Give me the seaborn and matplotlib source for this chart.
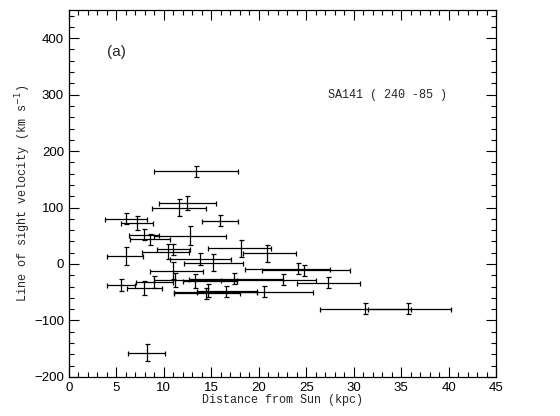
import matplotlib
matplotlib.use("Agg")
import matplotlib.pyplot as plt
import matplotlib.ticker as mticker
import seaborn as sns

sns.set_style("ticks")

# distance from Sun (kpc), velocity (km/s), distance range, velocity error
dist = [13.4, 12.4, 11.6, 6.0, 7.2, 15.9, 7.9, 8.5, 12.8, 10.4, 11.0, 6.0,
        18.1, 20.9, 13.8, 15.2, 24.1, 24.8, 11.0, 11.2, 5.5, 7.9, 9.0, 13.3,
        17.4, 22.5, 27.3, 14.4, 14.7, 16.6, 20.5, 31.2, 35.7, 8.2]
vel = [164, 108, 100, 80, 73, 77, 52, 44, 50, 22, 26, 14,
       28, 19, 9, 2, -8, -11, -12, -28, -37, -43, -32, -30,
       -26, -28, -33, -52, -47, -49, -49, -79, -79, -157]
dist_lo = [9.0, 9.5, 8.75, 3.8, 5.5, 14.0, 6.35, 6.4, 9.0, 7.7, 9.3, 4.0,
           14.7, 18.3, 10.6, 12.1, 18.5, 20.3, 8.5, 9.0, 4.0, 6.1, 7.1, 12.0,
           12.6, 16.0, 24.0, 11.1, 13.5, 11.1, 13.5, 26.4, 31.5, 6.25]
dist_hi = [17.8, 15.5, 14.4, 8.25, 8.9, 17.8, 9.5, 10.7, 16.6, 12.7, 12.8, 7.8,
           21.3, 23.9, 17.1, 18.3, 27.5, 29.6, 14.1, 17.7, 7.0, 9.8, 11.0, 17.7,
           22.5, 26.0, 30.7, 18.0, 19.8, 19.8, 25.7, 36.0, 40.2, 10.1]
vel_err = [10, 12, 15, 10, 12, 10, 10, 10, 17, 13, 10, 16,
           15, 15, 10, 15, 10, 10, 15, 12, 10, 12, 10, 12,
           10, 10, 10, 10, 12, 10, 10, 10, 10, 15]

xerr = [[d - lo for d, lo in zip(dist, dist_lo)],
        [hi - d for d, hi in zip(dist, dist_hi)]]

fig = plt.figure(figsize=(5.6, 4.16), dpi=100)
ax = fig.add_axes([0.123, 0.094, 0.763, 0.882])

ax.errorbar(dist, vel, xerr=xerr, yerr=vel_err, fmt="none", ecolor="black",
            elinewidth=0.9, capsize=1.8, capthick=0.9)

ax.set_xlim(0, 45)
ax.set_ylim(-200, 450)
ax.xaxis.set_major_locator(mticker.MultipleLocator(5))
ax.xaxis.set_minor_locator(mticker.MultipleLocator(1))
ax.yaxis.set_major_locator(mticker.FixedLocator([-200, -100, 0, 100, 200, 300, 400]))
ax.yaxis.set_minor_locator(mticker.MultipleLocator(20))
ax.tick_params(which="both", direction="in", top=True, right=True,
               labelsize=9.5, width=0.8, colors="black")
ax.tick_params(which="major", length=7)
ax.tick_params(which="minor", length=3.5)
for s in ax.spines.values():
    s.set_linewidth(0.9)
    s.set_color("black")
for lab in ax.get_xticklabels() + ax.get_yticklabels():
    lab.set_family("Liberation Sans")

mono = "Liberation Mono"
ax.set_xlabel("Distance from Sun (kpc)", family=mono, fontsize=8.5, labelpad=0)
ax.set_ylabel("Line of sight velocity (km s$^{-1}$)", family=mono, fontsize=8.5,
              labelpad=1)
ax.text(4.0, 375, "(a)", family="Liberation Sans", fontsize=11, va="center")
ax.text(27.3, 300, "SA141 ( 240 -85 )", family=mono, fontsize=8.5, va="center")

fig.savefig("out.png", dpi=100)
